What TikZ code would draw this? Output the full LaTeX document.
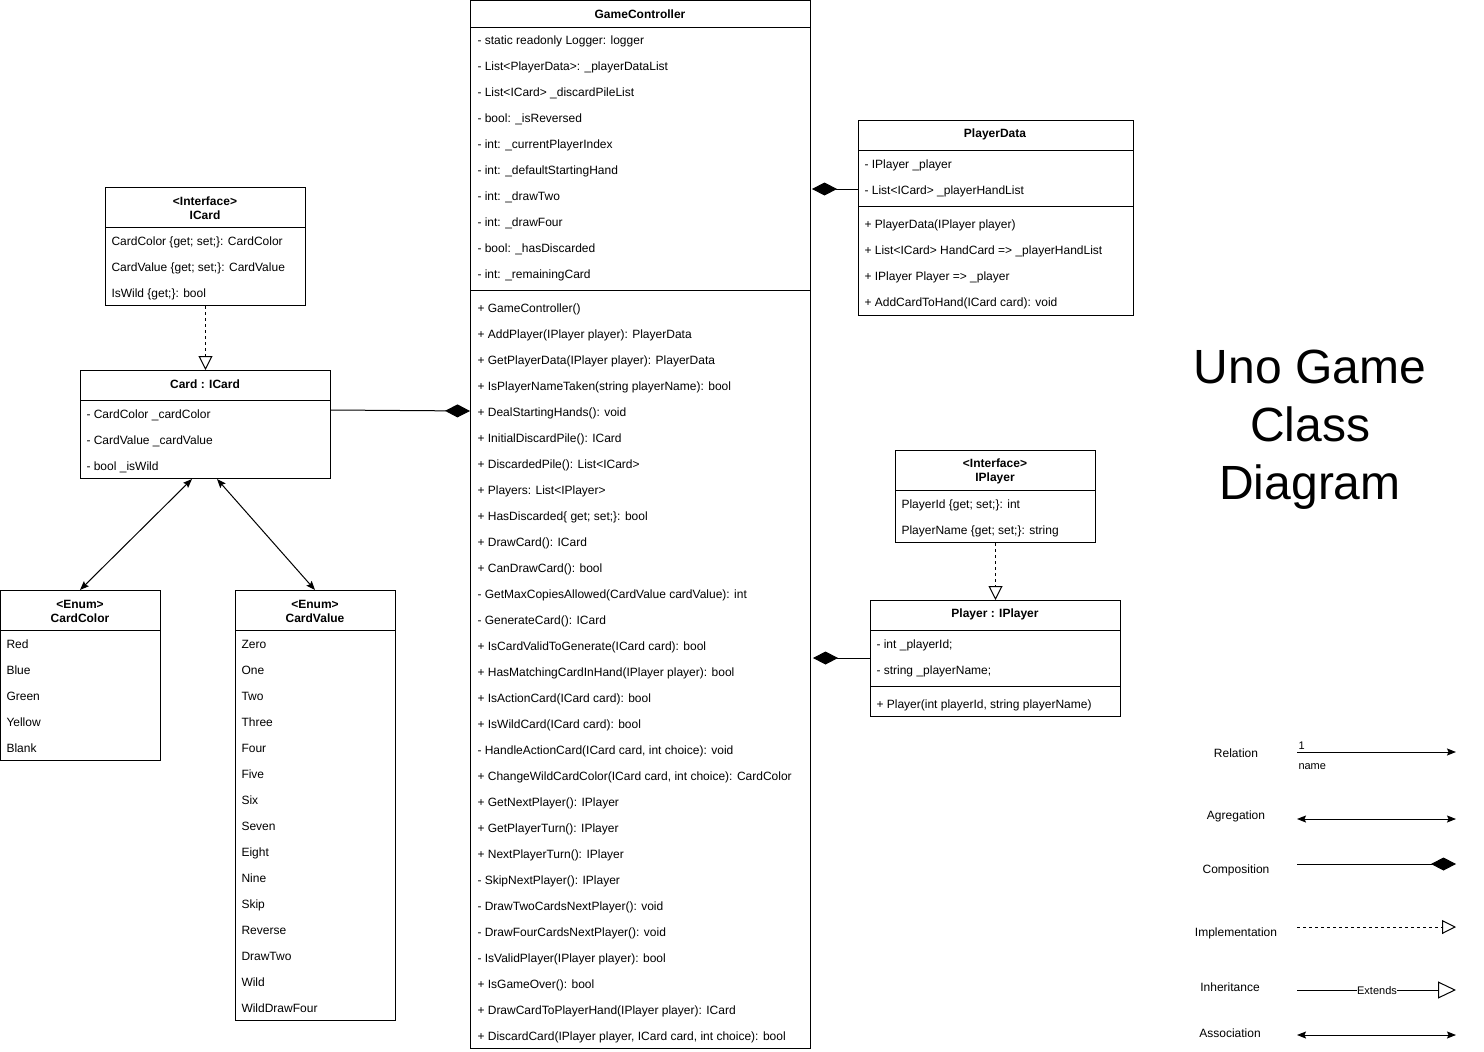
\documentclass[tikz,border=0pt]{standalone}
\usepackage{fontspec}
\setmainfont{Liberation Sans}
\usetikzlibrary{arrows.meta}
\begin{document}
\begin{tikzpicture}[x=1pt,y=-1pt,line width=1pt,
  font=\fontsize{12}{14}\selectfont,
  box/.style={draw,rectangle,inner sep=0pt,anchor=north west},
  row/.style={anchor=west,inner sep=0pt,text height=11pt,text depth=1pt},
  ttl/.style={inner sep=0pt,align=center,yshift=-1pt,font=\fontsize{12}{14}\selectfont\bfseries},
  lbl/.style={inner sep=0pt,yshift=-1pt,font=\fontsize{12}{14}\selectfont},
  small/.style={inner sep=0pt,font=\fontsize{11}{13}\selectfont},
  compo/.style={-{Diamond[length=25pt,width=13pt]}},
  impl/.style={dash pattern=on 3pt off 3pt,-{Triangle[open,length=14pt,width=14pt,fill=white]}},
  assoc/.style={{Stealth[length=9pt,width=7pt,inset=1.5pt]}-{Stealth[length=9pt,width=7pt,inset=1.5pt]}},
  rel/.style={-{Stealth[length=9pt,width=7pt,inset=1.5pt]}},
  inher/.style={-{Triangle[open,length=18pt,width=17pt,fill=white]}}
]
\useasboundingbox (0,0) rectangle (1484,1052);

% ---------------- GameController ----------------
\node[box,minimum width=340pt,minimum height=1048pt] (gc) at (470,0) {};
\node[ttl] (gct) at (640,13) {GameController};
\draw (gc.west |- 0,27) -- (gc.east |- 0,27);
\draw (gc.west |- 0,290) -- (gc.east |- 0,290);
\foreach \t [count=\i] in {
  - static readonly Logger: logger,
  - List<PlayerData>: \_playerDataList,
  - List<ICard> \_discardPileList,
  - bool: \_isReversed,
  - int: \_currentPlayerIndex,
  - int: \_defaultStartingHand,
  - int: \_drawTwo,
  - int: \_drawFour,
  - bool: \_hasDiscarded,
  - int: \_remainingCard}
  \node[row] (gca\i) at (477,{39+26*(\i-1)}) {\t};
\foreach \t [count=\i] in {
  + GameController(),
  + AddPlayer(IPlayer player): PlayerData,
  + GetPlayerData(IPlayer player): PlayerData,
  + IsPlayerNameTaken(string playerName): bool,
  + DealStartingHands(): void,
  + InitialDiscardPile(): ICard,
  + DiscardedPile(): List<ICard>,
  + Players: List<IPlayer>,
  + HasDiscarded\{ get; set;\}: bool,
  + DrawCard(): ICard,
  + CanDrawCard(): bool,
  - GetMaxCopiesAllowed(CardValue cardValue): int,
  - GenerateCard(): ICard,
  + IsCardValidToGenerate(ICard card): bool,
  + HasMatchingCardInHand(IPlayer player): bool,
  + IsActionCard(ICard card): bool,
  + IsWildCard(ICard card): bool,
  {- HandleActionCard(ICard card, int choice): void},
  {+ ChangeWildCardColor(ICard card, int choice): CardColor},
  + GetNextPlayer(): IPlayer,
  + GetPlayerTurn(): IPlayer,
  + NextPlayerTurn(): IPlayer,
  - SkipNextPlayer(): IPlayer,
  - DrawTwoCardsNextPlayer(): void,
  - DrawFourCardsNextPlayer(): void,
  - IsValidPlayer(IPlayer player): bool,
  + IsGameOver(): bool,
  + DrawCardToPlayerHand(IPlayer player): ICard,
  {+ DiscardCard(IPlayer player, ICard card, int choice): bool}}
  \node[row] (gcm\i) at (477,{307+26*(\i-1)}) {\t};

% ---------------- PlayerData ----------------
\node[box,minimum width=275pt,minimum height=195pt] (pd) at (858,120) {};
\node[ttl] (pdt) at (995,133) {PlayerData};
\draw (pd.west |- 0,150) -- (pd.east |- 0,150);
\draw (pd.west |- 0,206) -- (pd.east |- 0,206);
\node[row] (pda1) at (864,163) {- IPlayer \_player};
\node[row] (pda2) at (864,189) {- List<ICard> \_playerHandList};
\node[row] (pdm1) at (864,223) {+ PlayerData(IPlayer player)};
\node[row] (pdm2) at (864,249) {+ List<ICard> HandCard => \_playerHandList};
\node[row] (pdm3) at (864,275) {+ IPlayer Player => \_player};
\node[row] (pdm4) at (864,301) {+ AddCardToHand(ICard card): void};

% ---------------- ICard interface ----------------
\node[box,minimum width=200pt,minimum height=118pt] (ic) at (105,187) {};
\node[ttl] (ict) at (205,207) {<Interface>\\ICard};
\draw (ic.west |- 0,227) -- (ic.east |- 0,227);
\node[row] (ica1) at (111,240) {CardColor \{get; set;\}: CardColor};
\node[row] (ica2) at (111,266) {CardValue \{get; set;\}: CardValue};
\node[row] (ica3) at (111,292) {IsWild \{get;\}: bool};

% ---------------- Card ----------------
\node[box,minimum width=250pt,minimum height=108pt] (cd) at (80,370) {};
\node[ttl] (cdt) at (205,383) {Card : ICard};
\draw (cd.west |- 0,400) -- (cd.east |- 0,400);
\node[row] (cda1) at (86,413) {- CardColor \_cardColor};
\node[row] (cda2) at (86,439) {- CardValue \_cardValue};
\node[row] (cda3) at (86,465) {- bool \_isWild};

% ---------------- CardColor enum ----------------
\node[box,minimum width=160pt,minimum height=170pt] (cc) at (0,590) {};
\node[ttl] (cct) at (80,610) {<Enum>\\CardColor};
\draw (cc.west |- 0,630) -- (cc.east |- 0,630);
\foreach \t [count=\i] in {Red,Blue,Green,Yellow,Blank}
  \node[row] (cca\i) at (6,{643+26*(\i-1)}) {\t};

% ---------------- CardValue enum ----------------
\node[box,minimum width=160pt,minimum height=430pt] (cv) at (235,590) {};
\node[ttl] (cvt) at (315,610) {<Enum>\\CardValue};
\draw (cv.west |- 0,630) -- (cv.east |- 0,630);
\foreach \t [count=\i] in {Zero,One,Two,Three,Four,Five,Six,Seven,Eight,Nine,Skip,Reverse,DrawTwo,Wild,WildDrawFour}
  \node[row] (cva\i) at (241,{643+26*(\i-1)}) {\t};

% ---------------- IPlayer interface ----------------
\node[box,minimum width=200pt,minimum height=92pt] (ip) at (895,450) {};
\node[ttl] (ipt) at (995,470) {<Interface>\\IPlayer};
\draw (ip.west |- 0,490) -- (ip.east |- 0,490);
\node[row] (ipa1) at (901,503) {PlayerId \{get; set;\}: int};
\node[row] (ipa2) at (901,529) {PlayerName \{get; set;\}: string};

% ---------------- Player ----------------
\node[box,minimum width=250pt,minimum height=116pt] (pl) at (870,600) {};
\node[ttl] (plt) at (995,613) {Player : IPlayer};
\draw (pl.west |- 0,630) -- (pl.east |- 0,630);
\draw (pl.west |- 0,686) -- (pl.east |- 0,686);
\node[row] (pla1) at (876,643) {- int \_playerId;};
\node[row] (pla2) at (876,669) {- string \_playerName;};
\node[row] (plm1) at (876,703) {+ Player(int playerId, string playerName)};

% ---------------- Connectors ----------------
\draw[impl] (ic.south) -- (cd.north);
\draw[impl] (ip.south) -- (pl.north);
\draw[compo] (cd.east |- 0,410) -- (gc.west |- 0,411);
\draw[compo] (pd.west |- 0,189) -- ([xshift=1pt]gc.east |- 0,189);
\draw[compo] (pl.west |- 0,658) -- ([xshift=2pt]gc.east |- 0,658);
\draw[assoc] (cd.south -| 192,0) -- (cc.north -| 80,0);
\draw[assoc] (cd.south -| 217,0) -- (cv.north -| 315,0);

% ---------------- Title ----------------
\node[inner sep=0pt,align=center,font=\fontsize{48}{58}\selectfont] (title) at (1310,430) {Uno Game\\Class\\Diagram};

% ---------------- Legend ----------------
\node[lbl] (l1) at (1236,752) {Relation};
\node[lbl] (l2) at (1236,815) {Agregation};
\node[lbl] (l3) at (1236,869) {Composition};
\node[lbl] (l4) at (1236,932) {Implementation};
\node[lbl] (l5) at (1230,986) {Inheritance};
\node[lbl] (l6) at (1230,1032) {Association};
\coordinate (r1a) at (1297,752);  \coordinate (r1b) at (1456,752);
\coordinate (r2a) at (1297,819);  \coordinate (r2b) at (1456,819);
\coordinate (r3a) at (1297,864);  \coordinate (r3b) at (1456,864);
\coordinate (r4a) at (1297,927);  \coordinate (r4b) at (1456,927);
\coordinate (r5a) at (1297,990);  \coordinate (r5b) at (1456,990);
\coordinate (r6a) at (1297,1035); \coordinate (r6b) at (1456,1035);
\draw[rel] (r1a) -- (r1b);
\node[small,anchor=base west] (one) at (1298,749) {1};
\node[small,anchor=base west] (nm) at (1298,769) {name};
\draw[assoc] (r2a) -- (r2b);
\draw[compo] (r3a) -- (r3b);
\draw[impl] (r4a) -- (r4b);
\draw[inher] (r5a) -- (r5b);
\node[small,fill=white,inner sep=0.5pt] (ext) at (1377,991) {Extends};
\draw[assoc] (r6a) -- (r6b);
\end{tikzpicture}
\end{document}
